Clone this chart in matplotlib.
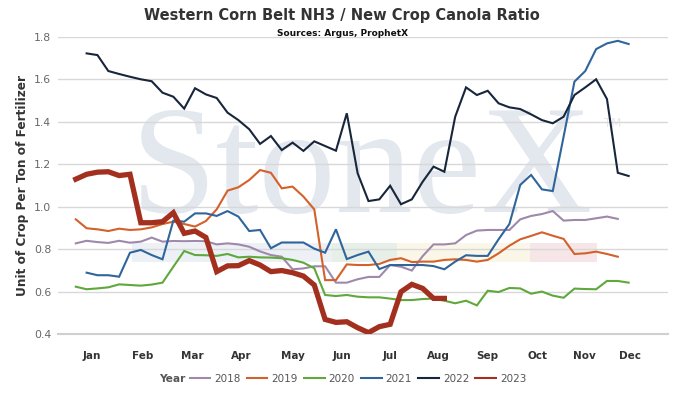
import numpy as np
import matplotlib
matplotlib.use("Agg")
import matplotlib.pyplot as plt
from matplotlib.lines import Line2D
from matplotlib.patches import Rectangle

# weekly ratio values
years = ["2018", "2019", "2020", "2021", "2022", "2023"]
first_week = [1, 1, 1, 2, 2, 1]

r2018 = [0.828, 0.84, 0.834, 0.83, 0.84, 0.831, 0.836, 0.855, 0.836, 0.839,
         0.838, 0.839, 0.838, 0.823, 0.828, 0.823, 0.812, 0.790, 0.773, 0.765,
         0.706, 0.71, 0.72, 0.72, 0.643, 0.643, 0.659, 0.67, 0.67, 0.726,
         0.718, 0.70, 0.768, 0.823, 0.823, 0.828, 0.867, 0.888, 0.891, 0.891,
         0.891, 0.941, 0.957, 0.966, 0.98, 0.935, 0.938, 0.938, 0.946, 0.954,
         0.943]
r2019 = [0.941, 0.899, 0.894, 0.886, 0.897, 0.891, 0.894, 0.903, 0.919, 0.93,
         0.919, 0.907, 0.933, 0.988, 1.076, 1.092, 1.126, 1.173, 1.16, 1.087,
         1.095, 1.048, 0.988, 0.655, 0.655, 0.729, 0.726, 0.726, 0.731, 0.75,
         0.758, 0.74, 0.742, 0.742, 0.75, 0.753, 0.75, 0.742, 0.75, 0.781,
         0.817, 0.847, 0.863, 0.88, 0.864, 0.849, 0.778, 0.781, 0.789, 0.778,
         0.765]
r2020 = [0.624, 0.612, 0.616, 0.621, 0.635, 0.632, 0.629, 0.634, 0.643, 0.718,
         0.792, 0.773, 0.772, 0.769, 0.778, 0.762, 0.765, 0.762, 0.761, 0.758,
         0.75, 0.737, 0.711, 0.585, 0.58, 0.585, 0.577, 0.574, 0.574, 0.568,
         0.561, 0.561, 0.566, 0.568, 0.558, 0.546, 0.558, 0.536, 0.605, 0.599,
         0.618, 0.616, 0.591, 0.601, 0.582, 0.572, 0.615, 0.613, 0.612, 0.651,
         0.651, 0.643]
r2021 = [0.69, 0.678, 0.678, 0.671, 0.784, 0.797, 0.773, 0.753, 0.935,
         0.93, 0.969, 0.969, 0.957, 0.98, 0.954, 0.886, 0.891, 0.805, 0.832,
         0.832, 0.832, 0.803, 0.784, 0.894, 0.754, 0.773, 0.789, 0.707, 0.726,
         0.726, 0.726, 0.726, 0.721, 0.706, 0.742, 0.772, 0.769, 0.769, 0.847,
         0.919, 1.103, 1.15, 1.082, 1.074, 1.33, 1.589, 1.639, 1.742, 1.769,
         1.781, 1.766]
r2022 = [1.722, 1.714, 1.639, 1.625, 1.612, 1.6, 1.591, 1.537, 1.518,
         1.462, 1.558, 1.529, 1.512, 1.443, 1.408, 1.365, 1.296, 1.333, 1.267,
         1.302, 1.263, 1.308, 1.286, 1.264, 1.44, 1.158, 1.027, 1.035, 1.099,
         1.012, 1.035, 1.118, 1.189, 1.165, 1.424, 1.562, 1.526, 1.546, 1.487,
         1.468, 1.46, 1.435, 1.408, 1.393, 1.424, 1.526, 1.562, 1.6, 1.507,
         1.16, 1.145]
r2023 = [1.13, 1.153, 1.163, 1.165, 1.147, 1.153, 0.925, 0.925, 0.93, 0.972,
         0.875, 0.886, 0.856, 0.695, 0.722, 0.723, 0.747, 0.726, 0.695, 0.70,
         0.69, 0.674, 0.632, 0.47, 0.456, 0.459, 0.431, 0.408, 0.436, 0.447,
         0.60, 0.635, 0.616, 0.569, 0.569]

series = [r2018, r2019, r2020, r2021, r2022, r2023]
colors = ["#9f89ab", "#d4602a", "#5fa83c", "#2f659c", "#18263b", "#a3301f"]
widths = [1.5, 1.5, 1.5, 1.5, 1.5, 3.8]

month_labels = ["Jan", "Feb", "Mar", "Apr", "May", "Jun",
                "Jul", "Aug", "Sep", "Oct", "Nov", "Dec"]
month_pos = [2.47, 7.14, 11.79, 16.31, 21.07, 25.54,
             30.0, 34.45, 39.0, 43.58, 47.89, 52.1]

fig = plt.figure(figsize=(6.76, 4.2), dpi=100)
ax = fig.add_axes([58 / 676, 85.7 / 420, 610 / 676, 297.5 / 420])

# watermark + faint coloured strip behind the data
ax.text(0.12, 0.412, "StoneX", transform=ax.transAxes, family="Liberation Serif",
        fontsize=111, color="#e3e7ee", ha="left", va="baseline", zorder=0)
ax.text(0.895, 0.707, "TM", transform=ax.transAxes, fontsize=8.5, color="#e3e7ee",
        ha="left", va="center", zorder=0)
strip = [(0.121, 0.449, "#edf1f6"), (0.449, 0.556, "#e7efe9"),
         (0.556, 0.774, "#fbf7e8"), (0.774, 0.883, "#f7e6e8")]
for x0, x1, c in strip:
    ax.add_patch(Rectangle((x0, 0.244), x1 - x0, 0.062, transform=ax.transAxes,
                           facecolor=c, edgecolor="none", zorder=0.5))

for yr, start, vals, c, lw in zip(years, first_week, series, colors, widths):
    weeks = np.arange(start, start + len(vals))
    ax.plot(weeks, vals, color=c, lw=lw, solid_joinstyle="miter", zorder=3)

ax.set_xlim(-0.64, 55.63)
ax.set_ylim(0.4, 1.8)
ax.set_yticks(np.arange(0.4, 1.81, 0.2))
ax.set_yticklabels([f"{v:.1f}" for v in np.arange(0.4, 1.81, 0.2)])
ax.set_xticks(month_pos)
ax.set_xticklabels(month_labels, fontweight="bold")
ax.yaxis.grid(True, color="#d8d8d8", lw=1)
ax.set_axisbelow(True)
for s in ["top", "right", "left"]:
    ax.spines[s].set_visible(False)
ax.spines["bottom"].set_color("#d0d0d0")
ax.spines["bottom"].set_linewidth(1.5)
ax.tick_params(axis="y", length=0, pad=5, labelsize=7.8, labelcolor="#666666")
ax.tick_params(axis="x", length=0, pad=12, labelsize=7.5, labelcolor="#333333")

ax.set_ylabel("Unit of Crop Per Ton of Fertilizer", fontsize=8.7, fontweight="bold",
              color="#333333", labelpad=3.3)

fig.text(0.505, 0.962, "Western Corn Belt NH3 / New Crop Canola Ratio",
         ha="center", va="center", fontsize=10.5, fontweight="bold", color="#333333")
fig.text(0.507, 0.921, "Sources: Argus, ProphetX", ha="center", va="center",
         fontsize=6.5, fontweight="bold", color="#111111")

fig.text(159 / 676, 0.0976, "Year", ha="left", va="center", fontsize=7.7,
         fontweight="bold", color="#555555")
handles = [Line2D([], [], color=c, lw=1.5) for c in colors]
fig.legend(handles, years, loc="center left", bbox_to_anchor=(190 / 676, 0.0976),
           ncol=6, frameon=False, fontsize=7.5, handlelength=1.95,
           handletextpad=0.4, columnspacing=0.6, borderpad=0, borderaxespad=0,
           labelcolor="#555555")

fig.savefig("out.png", dpi=100, facecolor="white")
